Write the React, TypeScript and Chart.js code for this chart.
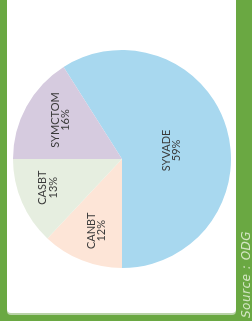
import React, { useEffect, useRef } from "react";
import { Chart, registerables } from "chart.js";

Chart.register(...registerables);

const categories = ["SYVADE", "CANBT", "CASBT", "SYMCTOM"];
const shares = [59, 12, 13, 16];
const percentLabels = ["59%", "12%", "13%", "16%"];
const sliceColors = ["#a8d8ef", "#fde5d7", "#e6eee0", "#d6cbdf"];
const sourceText = "Source : ODG";

const labelPlugin = {
  id: "rotatedLabels",
  afterDatasetsDraw(chart: any, _args: any, opts: any) {
    const ctx = chart.ctx;
    const meta = chart.getDatasetMeta(0);
    const factors: number[] = opts.radiusFactors || [];
    meta.data.forEach((arc: any, i: number) => {
      const p = arc.getProps(["x", "y", "startAngle", "endAngle", "outerRadius"], true);
      const mid = (p.startAngle + p.endAngle) / 2 + (opts.angleShift?.[i] || 0);
      const r = p.outerRadius * (factors[i] ?? 0.6);
      const px = p.x + Math.cos(mid) * r;
      const py = p.y + Math.sin(mid) * r;
      ctx.save();
      ctx.translate(px, py);
      ctx.rotate(-Math.PI / 2);
      ctx.fillStyle = "#3a3a3a";
      ctx.font = "11px Lato";
      ctx.textAlign = "center";
      ctx.textBaseline = "middle";
      ctx.fillText(chart.data.labels[i], 0, -5);
      ctx.fillText(percentLabels[i], 0, 5.5);
      ctx.restore();
    });
  },
};

export default function App() {
  const canvasRef = useRef<HTMLCanvasElement>(null);

  useEffect(() => {
    if (!canvasRef.current) return;
    const chart = new Chart(canvasRef.current, {
      type: "pie",
      data: {
        labels: categories,
        datasets: [
          {
            data: shares,
            backgroundColor: sliceColors,
            borderWidth: 0,
          },
        ],
      },
      options: {
        animation: false,
        responsive: false,
        rotation: -32.4,
        layout: { padding: { left: 13, right: 21, top: 50, bottom: 53 } },
        plugins: {
          legend: { display: false },
          tooltip: { enabled: false },
          rotatedLabels: {
            radiusFactors: [0.46, 0.7, 0.73, 0.67],
            angleShift: [0.11, -0.03, 0.04, 0.06],
          },
        } as any,
      },
      plugins: [labelPlugin],
    });
    return () => chart.destroy();
  }, []);

  return (
    <div
      style={{
        position: "fixed",
        left: 0,
        top: 0,
        width: 252,
        height: 321,
        background: "#6aa842",
        overflow: "hidden",
      }}
    >
      <div
        style={{
          position: "absolute",
          left: 7,
          top: -3,
          width: 229,
          height: 316,
          background: "#ffffff",
          borderRadius: 4,
          boxShadow: "0 2px 0 #b9d3a8",
        }}
      />
      <canvas
        ref={canvasRef}
        width={252}
        height={321}
        style={{ position: "absolute", left: 0, top: 0, width: 252, height: 321 }}
      />
      <div
        style={{
          position: "absolute",
          left: 240,
          top: 226,
          height: 92,
          width: 13,
          writingMode: "vertical-rl",
          transform: "rotate(180deg)",
          fontFamily: "'DejaVu Sans'",
          fontStyle: "italic",
          fontSize: 12,
          lineHeight: "13px",
          letterSpacing: 0.5,
          color: "rgba(235,245,225,0.85)",
          whiteSpace: "nowrap",
        }}
      >
        {sourceText}
      </div>
    </div>
  );
}
